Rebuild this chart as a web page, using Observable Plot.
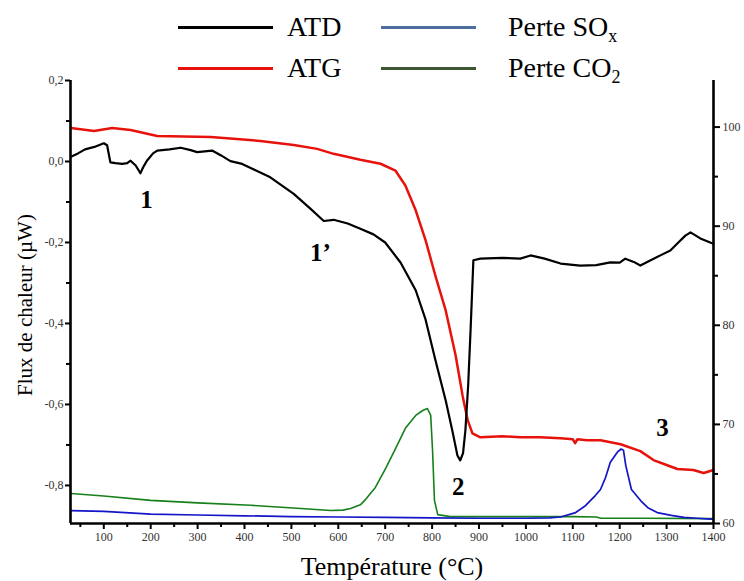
<!DOCTYPE html>
<html><head><meta charset="utf-8">
<script src="https://cdn.jsdelivr.net/npm/d3@7"></script>
<script src="https://cdn.jsdelivr.net/npm/@observablehq/plot@0.6"></script>
<style>
body{margin:0;background:#fff;}
#wrap{position:relative;width:744px;height:581px;font-family:"Liberation Serif","Times New Roman",serif;}
#wrap svg text{font-family:"Liberation Serif","Times New Roman",serif;}
.leg{position:absolute;font-size:28px;color:#000;line-height:1;white-space:nowrap;}
.leg sub{font-size:18px;vertical-align:-6px;line-height:0;}
.ln{position:absolute;height:3px;}
</style></head><body>
<div id="wrap"></div>
<script>
// ---- data ----
const atdT = [30, 45, 60, 80, 100, 107, 114, 125, 139, 150, 157, 168, 178, 185, 192, 205, 214, 240, 264, 285, 299, 315, 331, 350, 370, 395, 420, 455, 505, 541, 569, 590, 620, 647, 675, 700, 733, 765, 786, 807, 829, 843, 854, 860, 866, 871, 877, 882, 888, 903, 950, 988, 1010, 1040, 1074, 1116, 1150, 1180, 1200, 1212, 1230, 1244, 1266, 1290, 1308, 1325, 1340, 1351, 1372, 1393, 1400];
const atdV = [0.012, 0.02, 0.03, 0.036, 0.045, 0.04, -0.002, -0.004, -0.006, -0.004, 0.002, -0.01, -0.029, -0.012, 0.002, 0.02, 0.027, 0.03, 0.034, 0.028, 0.023, 0.025, 0.027, 0.015, 0.001, -0.006, -0.02, -0.039, -0.08, -0.117, -0.147, -0.144, -0.153, -0.166, -0.18, -0.2, -0.25, -0.318, -0.39, -0.49, -0.59, -0.664, -0.726, -0.738, -0.72, -0.664, -0.55, -0.417, -0.244, -0.24, -0.238, -0.24, -0.232, -0.24, -0.252, -0.257, -0.256, -0.249, -0.25, -0.24, -0.248, -0.257, -0.244, -0.23, -0.22, -0.2, -0.183, -0.175, -0.19, -0.2, -0.203];

const atgT = [30, 79, 118, 157, 214, 328, 434, 505, 555, 590, 647, 690, 722, 743, 765, 786, 807, 829, 850, 865, 876, 886, 903, 950, 988, 1030, 1074, 1100, 1105, 1110, 1130, 1159, 1202, 1244, 1272, 1300, 1323, 1357, 1379, 1393, 1400];
const atgP = [99.9, 99.6, 99.9, 99.7, 99.1, 99.0, 98.6, 98.2, 97.8, 97.3, 96.7, 96.3, 95.6, 94.1, 91.6, 88.6, 85.0, 81.5, 77.0, 72.9, 70.4, 69.1, 68.7, 68.8, 68.7, 68.7, 68.6, 68.5, 68.1, 68.5, 68.4, 68.4, 68.0, 67.3, 66.4, 65.9, 65.5, 65.4, 65.1, 65.3, 65.4];

const soxT = [30, 100, 200, 300, 400, 500, 600, 700, 800, 900, 1000, 1050, 1074, 1106, 1127, 1148, 1159, 1170, 1180, 1195, 1203, 1208, 1213, 1225, 1245, 1260, 1280, 1310, 1337, 1365, 1393, 1400];
const soxV = [-0.862, -0.864, -0.871, -0.873, -0.875, -0.877, -0.878, -0.879, -0.880, -0.881, -0.881, -0.880, -0.878, -0.867, -0.85, -0.825, -0.81, -0.78, -0.743, -0.718, -0.71, -0.713, -0.751, -0.81, -0.838, -0.855, -0.867, -0.874, -0.879, -0.881, -0.883, -0.883];

const co2T = [30, 100, 200, 300, 413, 520, 584, 610, 626, 647, 658, 679, 701, 722, 743, 765, 780, 790, 797, 801, 805, 812, 839, 900, 1000, 1100, 1150, 1160, 1250, 1400];
const co2V = [-0.82, -0.826, -0.837, -0.843, -0.849, -0.857, -0.862, -0.861, -0.857, -0.848, -0.835, -0.805, -0.758, -0.709, -0.659, -0.627, -0.615, -0.61, -0.627, -0.714, -0.837, -0.872, -0.877, -0.877, -0.877, -0.877, -0.878, -0.881, -0.881, -0.882];

const xTicks = [100, 200, 300, 400, 500, 600, 700, 800, 900, 1000, 1100, 1200, 1300, 1400];
const xMinor = [50, 150, 250, 350, 450, 550, 650, 750, 850, 950, 1050, 1150, 1250, 1350];
const yTicks = [0.2, 0.0, -0.2, -0.4, -0.6, -0.8];
const yMinor = [0.1, -0.1, -0.3, -0.5, -0.7];
const rTicks = [60, 70, 80, 90, 100];
const rMinor = [65, 75, 85, 95];

const annText = ["1", "1\u2019", "2", "3"];
const annT = [191, 562, 856, 1291];
const annV = [-0.096, -0.227, -0.805, -0.659];

const xDomain = [29, 1400];
const yDomain = [-0.894, 0.2];
const rDomain = [60, 104.7];

// ---- helpers ----
const serif = '"Liberation Serif","Times New Roman",serif';
const toLeft = p => yDomain[0] + (p - rDomain[0]) * (yDomain[1] - yDomain[0]) / (rDomain[1] - rDomain[0]);
const fmtL = d => (d < -1e-9 ? "-" : "") + Math.abs(d).toFixed(1).replace(".", ",");
const fmtR = d => String(Math.round(rDomain[0] + (d - yDomain[0]) * (rDomain[1] - rDomain[0]) / (yDomain[1] - yDomain[0])));

const atd = atdT.map((t, i) => ({t, v: atdV[i]}));
const atg = atgT.map((t, i) => ({t, v: toLeft(atgP[i])}));
const sox = soxT.map((t, i) => ({t, v: soxV[i]}));
const co2 = co2T.map((t, i) => ({t, v: co2V[i]}));
const ann = annText.map((s, i) => ({s, t: annT[i], v: annV[i]}));

const tickStyle = {fontSize: 12, fontFamily: serif, fill: "#333", stroke: "#000", strokeWidth: 2};

const chart = Plot.plot({
  width: 744, height: 581,
  marginLeft: 70, marginRight: 31, marginTop: 80, marginBottom: 58,
  style: {fontFamily: serif, background: "#fff", color: "#000"},
  x: {domain: xDomain, axis: null},
  y: {domain: yDomain, axis: null},
  marks: [
    Plot.line(co2, {x: "t", y: "v", stroke: "#17801a", strokeWidth: 1.6}),
    Plot.line(sox, {x: "t", y: "v", stroke: "#1414c8", strokeWidth: 1.7}),
    Plot.line(atg, {x: "t", y: "v", stroke: "#e8120c", strokeWidth: 2.5}),
    Plot.line(atd, {x: "t", y: "v", stroke: "#000", strokeWidth: 2.2}),
    Plot.ruleX([xDomain[0], xDomain[1]], {stroke: "#000", strokeWidth: 2.6}),
    Plot.ruleY([yDomain[0]], {stroke: "#000", strokeWidth: 2.6}),
    Plot.axisX(xTicks, {anchor: "bottom", tickSize: 6, tickPadding: 3, tickFormat: d => String(d), label: null, ...tickStyle}),
    Plot.axisX(xMinor, {anchor: "bottom", tickSize: 4, tickFormat: () => "", label: null, ...tickStyle}),
    Plot.axisY(yTicks, {anchor: "left", tickSize: 5, tickPadding: 2, tickFormat: fmtL, label: null, ...tickStyle}),
    Plot.axisY(yMinor, {anchor: "left", tickSize: 4, tickFormat: () => "", label: null, ...tickStyle}),
    Plot.axisY(rTicks.map(toLeft), {anchor: "right", tickSize: 6, tickPadding: 3, tickFormat: fmtR, label: null, ...tickStyle}),
    Plot.axisY(rMinor.map(toLeft), {anchor: "right", tickSize: 4, tickFormat: () => "", label: null, ...tickStyle}),
    Plot.text(ann, {x: "t", y: "v", text: "s", fontSize: 25, fontWeight: "bold", fontFamily: serif, fill: "#000", textAnchor: "middle", lineAnchor: "middle"}),
    Plot.text(["Température (°C)"], {frameAnchor: "bottom", dy: 51, lineAnchor: "bottom", fontSize: 26, fontFamily: serif, fill: "#000"}),
    Plot.text(["Flux de chaleur (µW)"], {frameAnchor: "left", dx: -39, dy: 3, rotate: -90, lineAnchor: "bottom", textAnchor: "middle", fontSize: 21, fontFamily: serif, fill: "#000"})
  ]
});

const wrap = document.getElementById("wrap");
wrap.appendChild(chart);

// ---- legend (HTML overlay above the plot area) ----
const legendItems = [
  {label: "ATD", color: "#000", col: 0, row: 0},
  {label: "ATG", color: "#e8120c", col: 0, row: 1},
  {label: "Perte SO<sub>x</sub>", color: "#4d6e9e", col: 1, row: 0},
  {label: "Perte CO<sub>2</sub>", color: "#3b5630", col: 1, row: 1}
];
const lineX = [178, 381], textX = [287, 508], rowY = [27, 68];
legendItems.forEach(it => {
  const ln = document.createElement("div");
  ln.className = "ln";
  ln.style.left = lineX[it.col] + "px";
  ln.style.width = "95px";
  ln.style.top = (rowY[it.row] - 1.5) + "px";
  ln.style.background = it.color;
  wrap.appendChild(ln);
  const tx = document.createElement("div");
  tx.className = "leg";
  tx.style.left = textX[it.col] + "px";
  tx.style.top = (rowY[it.row] - 14) + "px";
  tx.innerHTML = it.label;
  wrap.appendChild(tx);
});
chart.style.position = "absolute";
chart.style.left = "0";
chart.style.top = "0";
</script>
</body></html>
